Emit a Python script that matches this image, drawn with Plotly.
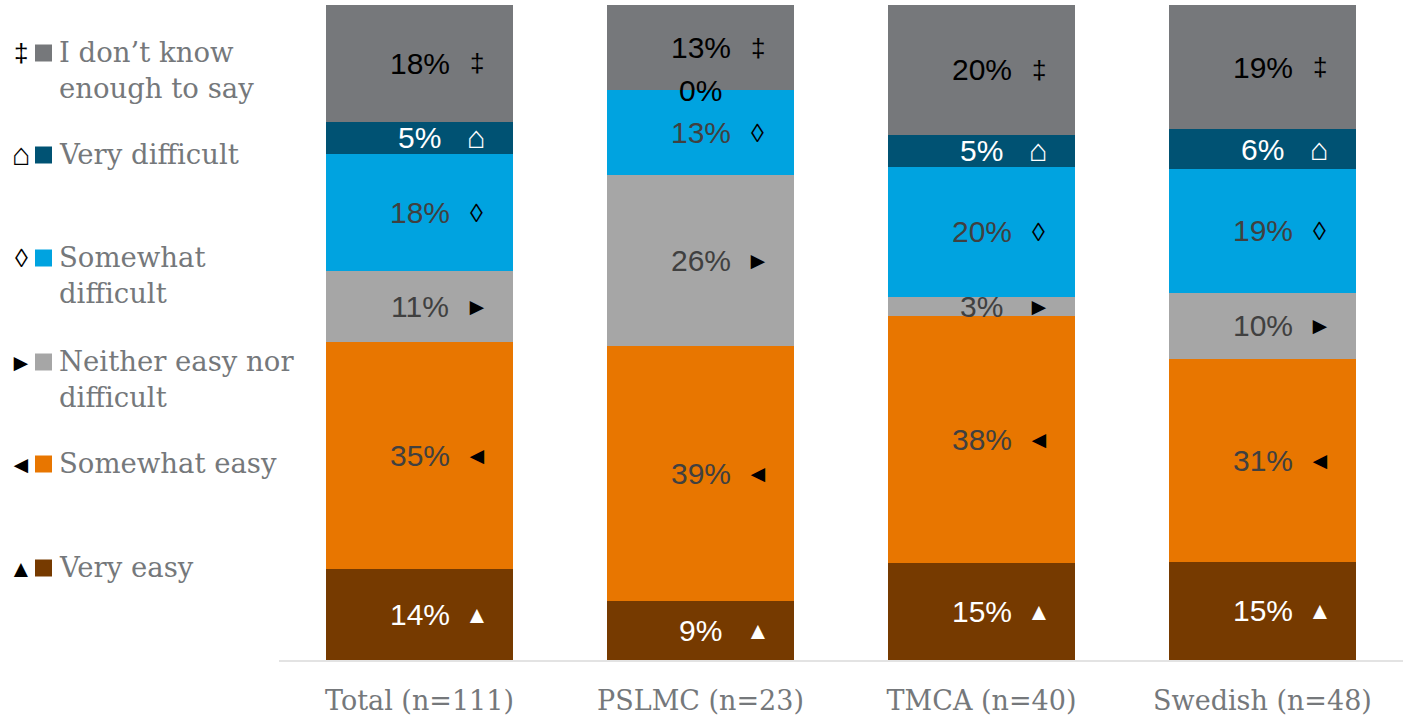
import plotly.graph_objects as go

# Response groups on the x axis
categories = ["Total (n=111)", "PSLMC (n=23)", "TMCA (n=40)", "Swedish (n=48)"]

# Percent of respondents per answer (bottom of the stack first)
very_easy = [14, 9, 15, 15]
somewhat_easy = [35, 39, 38, 31]
neither = [11, 26, 3, 10]
somewhat_difficult = [18, 13, 20, 19]
very_difficult = [5, 0, 5, 6]
dont_know = [18, 13, 20, 19]

series_names = [
    "Very easy",
    "Somewhat easy",
    "Neither easy nor difficult",
    "Somewhat difficult",
    "Very difficult",
    "I don’t know enough to say",
]
legend_labels = [
    "Very easy",
    "Somewhat easy",
    "Neither easy nor<br>difficult",
    "Somewhat<br>difficult",
    "Very difficult",
    "I don’t know<br>enough to say",
]
series_marks = ["▲", "◄", "►", "◊", "⌂", "‡"]
series_values = [very_easy, somewhat_easy, neither, somewhat_difficult, very_difficult, dont_know]

colors = ["#763A00", "#E87600", "#A6A6A6", "#00A3E0", "#005273", "#76787B"]
label_colors = ["#FFFFFF", "#404040", "#404040", "#404040", "#FFFFFF", "#000000"]
mark_colors = ["#FFFFFF", "#000000", "#000000", "#000000", "#FFFFFF", "#000000"]
mark_sizes = [24, 24, 24, 26, 31, 26]

# Canvas and plot-area geometry (pixels)
W, H = 1403, 725
ML, MR, MT, MB = 279, 0, 5, 65
PW, PH = W - ML - MR, H - MT - MB


def px_x(px):
    return (px - ML) / PW


def px_y(py):
    return 1 - (py - MT) / PH


TEXT_GRAY = "#75787B"
SERIF = "DejaVu Serif"
SANS = "Liberation Sans, Arial"
SYMBOL_FONT = "Liberation Sans, Arial, DejaVu Sans"

fig = go.Figure()
for name, vals, col in zip(series_names, series_values, colors):
    fig.add_trace(
        go.Bar(
            x=categories,
            y=vals,
            name=name,
            marker=dict(color=col, line=dict(width=0)),
            showlegend=False,
            hoverinfo="skip",
        )
    )

annotations = []

# Segment labels, placed at the middle of each normalised segment
totals = [sum(v[i] for v in series_values) for i in range(len(categories))]
for ci, cat in enumerate(categories):
    cum = 0.0
    for si, vals in enumerate(series_values):
        v = vals[ci]
        share = v / totals[ci] * 100
        mid = cum + share / 2
        cum += share
        annotations.append(
            dict(
                x=cat, y=mid, xref="x", yref="y",
                text=f"{v}%", showarrow=False,
                font=dict(family=SANS, size=30,
                          color=label_colors[si] if v > 0 else "#000000"),
                xanchor="center", yanchor="middle",
            )
        )
        if v > 0:
            annotations.append(
                dict(
                    x=cat, y=mid, xref="x", yref="y", xshift=57,
                    text=series_marks[si], showarrow=False,
                    font=dict(family=SYMBOL_FONT, size=mark_sizes[si], color=mark_colors[si]),
                    xanchor="center", yanchor="middle",
                )
            )

# Legend drawn down the left margin: mark, colour swatch, label
legend_rows = [568, 464, 362, 258, 155, 53]
shapes = []
for si, row in enumerate(legend_rows):
    annotations.append(
        dict(
            x=px_x(21), y=px_y(row), xref="paper", yref="paper",
            text=series_marks[si], showarrow=False,
            font=dict(family=SYMBOL_FONT, size=mark_sizes[si], color="#000000"),
            xanchor="center", yanchor="middle",
        )
    )
    shapes.append(
        dict(
            type="rect", xref="paper", yref="paper",
            x0=px_x(35), x1=px_x(52), y0=px_y(row + 8.5), y1=px_y(row - 8.5),
            fillcolor=colors[si], line=dict(width=0),
        )
    )
    annotations.append(
        dict(
            x=px_x(57), y=px_y(row - 19), xref="paper", yref="paper",
            text=legend_labels[si], showarrow=False, align="left",
            font=dict(family=SERIF, size=27.5, color=TEXT_GRAY),
            xanchor="left", yanchor="top",
        )
    )

fig.update_layout(
    width=W,
    height=H,
    margin=dict(l=ML, r=MR, t=MT, b=MB, pad=0),
    barmode="stack",
    barnorm="percent",
    bargap=0.335,
    plot_bgcolor="white",
    paper_bgcolor="white",
    annotations=annotations,
    shapes=shapes,
    showlegend=False,
)
fig.update_xaxes(
    showline=True, linecolor="#E3E3E3", linewidth=2,
    showgrid=False, ticks="", zeroline=False,
    tickfont=dict(family=SERIF, size=27, color=TEXT_GRAY),
    ticklabelstandoff=16,
)
fig.update_yaxes(range=[0, 100], visible=False, showgrid=False, zeroline=False)

fig.write_html("out.html")
